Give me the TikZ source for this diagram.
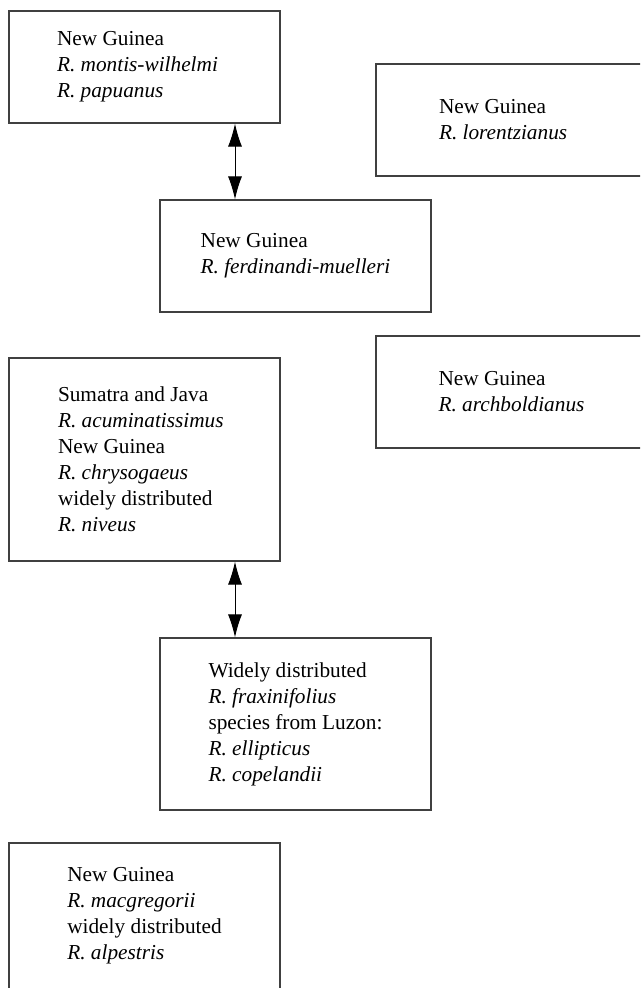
\documentclass[tikz,border=0pt]{standalone}
\usepackage{fontspec}
\setmainfont{Liberation Serif}
\usetikzlibrary{arrows.meta}

\begin{document}
\begin{tikzpicture}[x=1pt,y=-1pt,>={Latex[length=23pt,width=14pt]},
        region/.style={draw=black!75,line width=1.2pt,minimum width=271pt,
          align=flush left,font=\fontsize{21.3}{26}\selectfont},
        link/.style={<->,line width=0.9pt}]
      \useasboundingbox (0,0) rectangle (640,988);
      \clip (0,0) rectangle (640,988);
      \node[region,minimum height=112pt,text width=175pt] (mont) at (144.5,67)
        {New Guinea\\\textit{R. montis-wilhelmi}\\\textit{R. papuanus}};
      \node[region,minimum height=112pt,text width=145pt] (lore) at (511.5,120)
        {New Guinea\\\textit{R. lorentzianus}};
      \node[region,minimum height=112pt] (ferd) at (295.5,256)
        {New Guinea\\\textit{R. ferdinandi-muelleri}};
      \node[region,minimum height=112pt] (arch) at (511.5,392)
        {New Guinea\\\textit{R. archboldianus}};
      \node[region,minimum height=203pt,text width=173pt] (acum) at (144.5,459.5)
        {Sumatra and Java\\\textit{R. acuminatissimus}\\New Guinea\\
         \textit{R. chrysogaeus}\\widely distributed\\\textit{R. niveus}};
      \node[region,minimum height=172pt] (frax) at (295.5,724)
        {Widely distributed\\\textit{R. fraxinifolius}\\species from Luzon:\\
         \textit{R. ellipticus}\\\textit{R. copelandii}};
      \node[region,minimum height=146pt] (macg) at (144.5,916)
        {New Guinea\\\textit{R. macgregorii}\\widely distributed\\\textit{R. alpestris}};
      \draw[link] ([xshift=90.5pt]mont.south) -- ([xshift=-60.5pt]ferd.north);
      \draw[link] ([xshift=90.5pt]acum.south) -- ([xshift=-60.5pt]frax.north);
    \end{tikzpicture}
\end{document}
